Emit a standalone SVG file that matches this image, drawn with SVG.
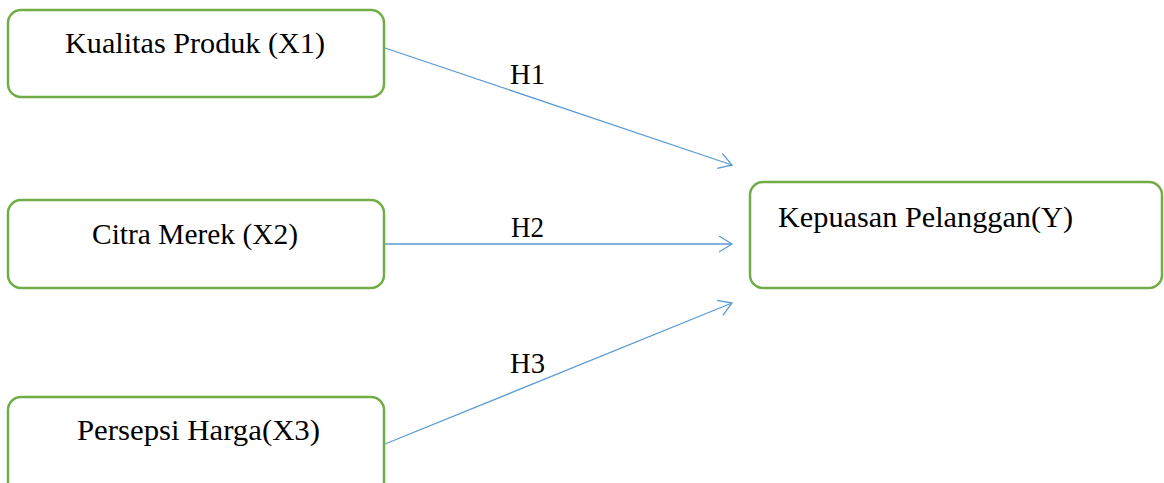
<svg xmlns="http://www.w3.org/2000/svg" width="1164" height="483" viewBox="0 0 1164 483">
  <defs>
    <style>
      .box { fill: #ffffff; stroke: #70AD47; stroke-width: 2.5; }
      .lbl { font-family: "Liberation Serif", "DejaVu Serif", serif; font-size: 29px; fill: #000000; }
      .edge { stroke: #5B9BD5; stroke-width: 1.3; fill: none; }
    </style>
    <marker id="arr" markerUnits="userSpaceOnUse" markerWidth="20" markerHeight="20" refX="14" refY="8" orient="auto" viewBox="0 0 20 20">
      <path d="M1,0 L14,8 L1,16" fill="none" stroke="#5B9BD5" stroke-width="1.3"/>
    </marker>
  </defs>
  <rect width="1164" height="483" fill="#ffffff"/>
  <g id="connectors">
    <line class="edge" x1="385" y1="48" x2="732" y2="165" marker-end="url(#arr)"/>
    <line class="edge" x1="385" y1="244" x2="732" y2="244" marker-end="url(#arr)"/>
    <line class="edge" x1="385" y1="444" x2="732" y2="303" marker-end="url(#arr)"/>
    <text class="lbl" x="510" y="84" textLength="35" lengthAdjust="spacingAndGlyphs">H1</text>
    <text class="lbl" x="511" y="237" textLength="33" lengthAdjust="spacingAndGlyphs">H2</text>
    <text class="lbl" x="510" y="373" textLength="35" lengthAdjust="spacingAndGlyphs">H3</text>
  </g>
  <g id="node-x1">
    <rect class="box" x="8" y="10" width="376" height="87" rx="13"/>
    <text class="lbl" x="65" y="53" textLength="260" lengthAdjust="spacingAndGlyphs">Kualitas Produk (X1)</text>
  </g>
  <g id="node-x2">
    <rect class="box" x="8" y="200" width="376" height="88" rx="13"/>
    <text class="lbl" x="92" y="244" textLength="206" lengthAdjust="spacingAndGlyphs">Citra Merek (X2)</text>
  </g>
  <g id="node-x3">
    <rect class="box" x="8" y="397" width="376" height="100" rx="13"/>
    <text class="lbl" x="77" y="440" textLength="243" lengthAdjust="spacingAndGlyphs">Persepsi Harga(X3)</text>
  </g>
  <g id="node-y">
    <rect class="box" x="750" y="182" width="412" height="106" rx="13"/>
    <text class="lbl" x="778" y="227" textLength="295" lengthAdjust="spacingAndGlyphs">Kepuasan Pelanggan(Y)</text>
  </g>
</svg>
